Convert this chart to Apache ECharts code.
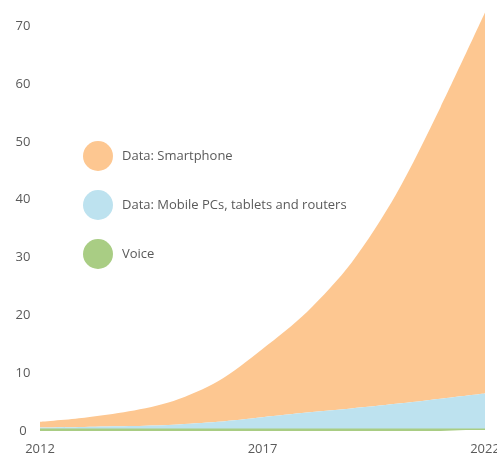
<!DOCTYPE html>
<html>
<head>
<meta charset="utf-8">
<script src="https://cdn.jsdelivr.net/npm/echarts@6/dist/echarts.min.js"></script>
<style>html,body{margin:0;padding:0;background:#fff;}#c{width:497px;height:459px;}</style>
</head>
<body>
<div id="c"></div>
<script>
const years = ['2012','2013','2014','2015','2016','2017','2018','2019','2020','2021','2022'];
const voice = [0.3,0.3,0.3,0.3,0.3,0.3,0.3,0.3,0.3,0.3,0.3];
const mobilePCs = [0.3,0.4,0.55,0.8,1.3,2.1,2.9,3.6,4.4,5.3,6.2];
const smartphone = [1.0,1.6,2.55,4.1,7.0,11.8,17.4,25.2,36.2,50.4,65.9];
const yTicks = [0,10,20,30,40,50,60,70];

const chart = echarts.init(document.getElementById('c'));
const font = 'Open Sans';
chart.setOption({
  animation: false,
  backgroundColor: '#fff',
  grid: {left: 40, right: 12, top: 9, bottom: 28, outerBoundsMode: 'none', containLabel: false},
  legend: {
    orient: 'vertical', left: 78, top: 136,
    itemWidth: 30, itemHeight: 30, itemGap: 19, icon: 'circle',
    data: ['Data: Smartphone','Data: Mobile PCs, tablets and routers','Voice'],
    textStyle: {color: '#5a5a5a', fontSize: 13, fontFamily: font, padding: [0,0,0,4]}
  },
  xAxis: {
    type: 'category', data: years, boundaryGap: false,
    axisLine: {show: false}, axisTick: {show: false},
    axisLabel: {interval: 4, color: '#5a5a5a', fontSize: 13, fontFamily: font, margin: 12}
  },
  yAxis: {
    type: 'value', min: 0, max: 73, interval: 10,
    splitLine: {show: false}, axisLine: {show: false}, axisTick: {show: false},
    axisLabel: {
      showMaxLabel: false, color: '#5a5a5a', fontSize: 13, fontFamily: font,
      align: 'center', margin: 17, padding: [0,0,6,0],
      formatter: v => yTicks.includes(v) ? String(v) : ''
    }
  },
  series: [
    {name: 'Voice', type: 'line', stack: 't', data: voice, smooth: 0.3, showSymbol: false, z: 5,
     lineStyle: {width: 1.5, color: '#a9cd84'}, itemStyle: {color: '#a9cd84'}, areaStyle: {color: '#a9cd84', opacity: 1}},
    {name: 'Data: Mobile PCs, tablets and routers', type: 'line', stack: 't', data: mobilePCs, smooth: 0.3, showSymbol: false, z: 4,
     lineStyle: {width: 0}, itemStyle: {color: '#bde2ef'}, areaStyle: {color: '#bde2ef', opacity: 1}},
    {name: 'Data: Smartphone', type: 'line', stack: 't', data: smartphone, smooth: 0.3, showSymbol: false, z: 3,
     lineStyle: {width: 0}, itemStyle: {color: '#fdc791'}, areaStyle: {color: '#fdc791', opacity: 1}}
  ]
});
</script>
</body>
</html>
